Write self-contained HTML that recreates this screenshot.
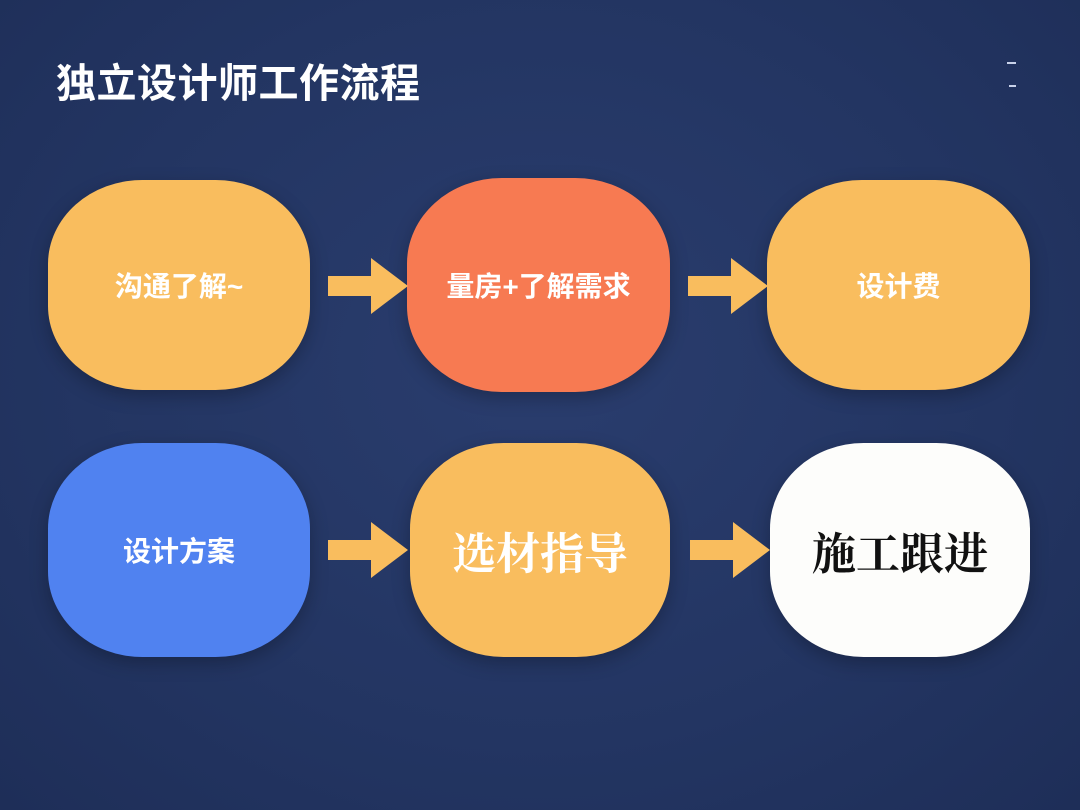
<!DOCTYPE html>
<html><head><meta charset="utf-8"><style>
body{margin:0;width:1080px;height:810px;overflow:hidden;background:radial-gradient(ellipse at 50% 45%,#2a3d6e 0%,#233562 60%,#1e2e58 100%);font-family:"Liberation Sans","Noto Sans CJK SC",sans-serif;position:relative}
.t{position:absolute;left:56px;top:51px;color:#fff;font-size:40px;font-weight:bold;letter-spacing:0.5px}
.b{position:absolute;display:flex;align-items:center;justify-content:center;border-radius:36% / 40%;color:#fff;font-weight:bold;font-size:28px;box-shadow:0 6px 18px rgba(0,0,0,.25)}
.y{background:#f9bd5e}
.s{font-family:"Noto Serif CJK SC",serif;font-size:44px}
svg{position:absolute}
.m{position:absolute;left:1007px;height:2px;background:#c9d2ea}
</style></head><body>
<div class="t">独立设计师工作流程</div>
<div class="m" style="top:62px;width:9px"></div>
<div class="m" style="top:85px;width:7px;left:1009px"></div>
<div class="b y" style="left:48px;top:180px;width:262px;height:210px">沟通了解~</div>
<div class="b" style="left:407px;top:178px;width:263px;height:214px;background:#f77a52">量房+了解需求</div>
<div class="b y" style="left:767px;top:180px;width:263px;height:210px">设计费</div>
<div class="b" style="left:48px;top:443px;width:262px;height:214px;background:#5082f0">设计方案</div>
<div class="b y s" style="left:410px;top:443px;width:260px;height:214px">选材指导</div>
<div class="b s" style="left:770px;top:443px;width:260px;height:214px;background:#fdfdfb;color:#111">施工跟进</div>
<svg width="1080" height="810" style="left:0;top:0">
<g fill="#f9bd5e">
<path d="M328 276h43v-18l37 28l-37 28v-18h-43z"/>
<path d="M688 276h43v-18l37 28l-37 28v-18h-43z"/>
<path d="M328 540h43v-18l37 28l-37 28v-18h-43z"/>
<path d="M690 540h43v-18l37 28l-37 28v-18h-43z"/>
</g></svg>
</body></html>
